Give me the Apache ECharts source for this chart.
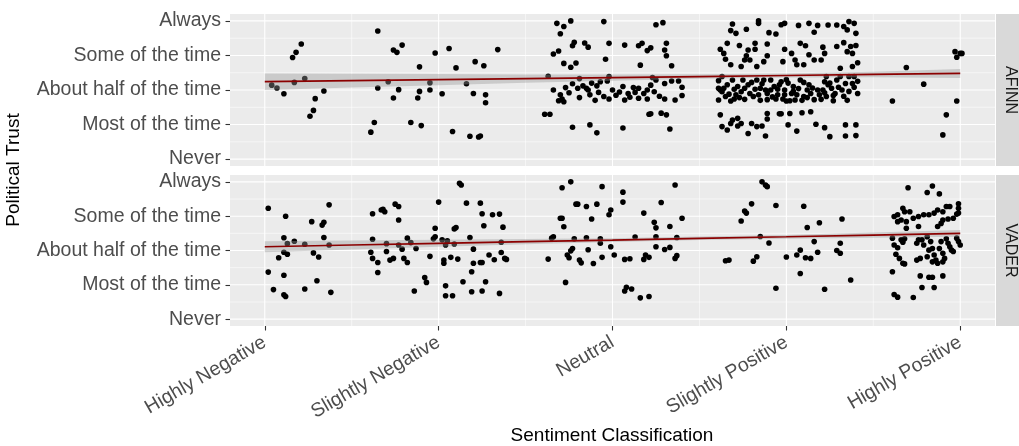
<!DOCTYPE html>
<html>
<head>
<meta charset="utf-8">
<title>Political Trust by Sentiment Classification</title>
<script src="https://cdn.jsdelivr.net/npm/echarts@6/dist/echarts.min.js"></script>
<style>
  html, body { margin: 0; padding: 0; background: #ffffff; }
  #chart { width: 1019px; height: 446px; }
</style>
</head>
<body>
<div id="chart"></div>
<script>
// Category labels (x = sentiment class 1..5, y = trust level 1..5)
const sentimentLevels = ['Highly Negative', 'Slightly Negative', 'Neutral', 'Slightly Positive', 'Highly Positive'];
const trustLevels = ['Never', 'Most of the time', 'About half of the time', 'Some of the time', 'Always'];
const panelNames = ['AFINN', 'VADER'];

// Jittered responses, [sentiment, trust], AFINN panel
const afinnHighlyNegative = [[1.21,4.33],[1.18,4.09],[1.16,3.94],[1.04,3.14],[1.07,3.06],[1.11,2.89],[1.17,3.22],[1.23,3.33],[1.34,2.97],[1.29,2.75],[1.28,2.41],[1.26,2.24]];
const afinnSlightlyNegative = [[1.65,4.71],[1.74,4.16],[1.76,4.09],[1.79,4.30],[1.89,3.67],[1.98,4.07],[2.06,4.20],[2.10,3.64],[2.21,3.82],[2.26,3.70],[2.34,4.17],[1.71,3.24],[1.65,3.06],[1.74,2.77],[1.77,3.01],[1.88,2.77],[1.89,2.96],[1.95,3.21],[1.95,3.00],[2.02,2.89],[2.16,3.18],[2.20,2.90],[2.27,2.86],[2.27,2.63],[1.63,2.06],[1.61,1.78],[1.84,2.06],[1.90,1.97],[2.08,1.80],[2.18,1.66],[2.23,1.64],[2.24,1.67]];
const afinnNeutral = [[2.68,4.93],[2.72,4.84],[2.76,5.00],[2.70,4.63],[2.95,4.98],[3.25,4.89],[2.66,4.04],[2.69,4.13],[2.77,4.28],[2.78,4.38],[2.84,4.36],[2.86,4.24],[2.98,4.35],[3.07,4.30],[3.15,4.28],[3.17,4.35],[3.20,4.14],[3.22,4.22],[2.72,3.77],[2.76,3.66],[2.79,3.78],[2.96,3.89],[3.16,3.72],[2.63,3.40],[2.81,3.33],[2.66,3.00],[2.73,3.07],[2.77,3.18],[2.83,3.12],[2.85,3.05],[2.86,3.00],[2.87,2.86],[2.81,2.78],[2.69,2.69],[2.71,2.74],[2.72,2.66],[2.90,2.70],[2.91,3.12],[2.93,3.24],[2.97,3.26],[2.98,3.39],[2.95,2.81],[2.98,2.74],[3.02,2.85],[3.07,2.71],[3.06,3.10],[3.10,2.79],[3.12,3.07],[3.13,2.93],[3.15,2.76],[3.18,2.90],[3.20,2.74],[3.20,3.00],[3.23,3.36],[3.22,3.14],[3.25,3.29],[3.27,2.82],[2.61,2.30],[2.64,2.30],[2.77,1.92],[2.87,1.99],[2.91,1.76],[3.06,1.90],[3.21,2.30],[3.22,2.31],[3.29,4.95],[3.31,4.35],[3.30,4.16],[3.31,3.99],[3.34,3.70],[3.30,3.19],[3.34,3.26],[3.38,3.26],[3.40,3.08],[3.40,2.84],[3.36,2.71],[3.30,2.74],[3.28,2.33],[3.31,2.28],[3.33,1.87],
  [2.70,2.86],[2.75,2.92],[2.80,3.05],[2.92,2.93],[3.00,3.00],[3.04,2.94],[3.09,2.90],[3.15,3.05],[3.24,2.95],[2.88,3.20]];
const afinnSlightlyPositive = [
  [3.69,4.91],[3.84,5.00],[3.84,4.93],[3.77,4.76],[3.68,4.72],[3.71,4.64],[3.90,4.66],[3.94,4.62],[3.97,4.89],[3.99,4.93],[4.07,4.87],[4.13,4.93],[4.18,4.87],[4.16,4.67],[4.24,4.88],[4.29,4.88],[4.33,4.84],[4.36,4.98],[4.39,4.93],[4.40,4.64],[4.35,4.74],
  [3.66,4.35],[3.62,4.18],[3.64,4.06],[3.73,4.29],[3.78,4.16],[3.82,4.35],[3.82,4.18],[3.89,4.33],[3.89,3.99],[3.99,4.18],[4.03,4.06],[4.08,4.35],[4.11,4.28],[4.13,4.02],[4.16,3.87],[4.21,4.24],[4.22,4.06],[4.20,3.87],[4.29,4.26],[4.33,4.37],[4.35,4.11],[4.37,4.26],[4.40,4.29],[4.38,4.06],[4.41,3.79],[4.38,3.68],[4.31,3.63],[3.79,3.87],[3.76,3.87],[3.68,3.73],[3.74,3.68],[3.83,3.68],[3.87,3.82],[3.98,3.82],[4.05,3.87],[4.10,3.73],[4.06,3.73],[3.65,3.89],[3.77,3.99],
  [3.61,3.27],[3.62,3.00],[3.61,2.71],[3.65,2.81],[3.68,2.68],[3.71,2.86],[3.75,3.29],[3.78,3.15],[3.81,2.81],[3.85,3.05],[3.87,3.29],[3.89,2.90],[3.93,3.10],[3.94,2.74],[3.97,3.24],[3.99,3.00],[4.02,2.69],[4.04,3.10],[4.08,3.29],[4.10,2.81],[4.13,3.15],[4.16,2.72],[4.18,3.00],[4.22,3.24],[4.23,2.81],[4.26,3.05],[4.29,3.29],[4.32,3.00],[4.35,2.70],[4.38,3.19],[4.41,2.90],[3.66,3.15],[3.72,3.10],[3.76,2.73],[3.83,3.29],[3.91,3.29],[3.95,2.86],[4.00,2.68],[4.06,2.86],[4.14,2.90],[4.20,2.73],[4.27,2.69],[4.31,3.39],[4.36,3.39],[3.63,3.39],[3.85,2.70],[3.98,2.74],[4.05,2.71],[4.23,3.39],[3.64,3.05],[3.74,2.95],[3.79,2.90],[3.91,3.00],[3.96,3.15],[4.03,2.90],[4.12,3.00],[4.21,3.00],[4.28,2.90],[4.34,3.19],[4.39,3.39],[3.69,3.29],[3.89,2.72],[4.09,2.70],[4.24,3.15],[3.61,3.05],
  [3.63,2.95],[3.67,2.88],[3.70,3.02],[3.73,2.78],[3.76,3.05],[3.80,3.22],[3.84,2.86],[3.86,3.18],[3.88,3.00],[3.92,2.80],[3.95,3.02],[3.99,2.86],[4.01,3.20],[4.04,2.96],[4.07,3.04],[4.10,3.22],[4.12,2.78],[4.15,3.06],[4.19,2.86],[4.22,2.92],[4.25,3.20],[4.27,2.84],[4.30,3.08],[4.33,2.82],[4.36,2.96],[4.39,3.08],[4.41,3.25],[3.70,2.74],[3.82,3.02],[4.00,3.30],
  [3.62,2.28],[3.63,1.94],[3.66,1.84],[3.69,2.13],[3.72,2.18],[3.74,2.03],[3.78,1.74],[3.80,2.03],[3.83,1.94],[3.86,1.96],[3.89,2.32],[3.89,2.16],[3.88,1.67],[3.96,2.31],[3.97,2.31],[4.02,2.32],[4.01,1.99],[4.06,1.81],[4.09,2.34],[4.14,2.37],[4.17,2.01],[4.22,1.91],[4.25,1.65],[4.34,1.99],[4.34,1.67],[4.40,1.99],[4.40,1.68],[3.68,2.03],[3.72,1.96]
];
const afinnHighlyPositive = [[4.69,3.65],[4.79,3.17],[4.61,2.68],[4.97,4.11],[5.00,4.06],[4.98,3.95],[5.01,4.06],[4.98,2.68],[4.92,2.28],[4.90,1.70]];

// Jittered responses, [sentiment, trust], VADER panel
const vaderHighlyNegative = [[1.02,4.23],[1.12,4.00],[1.27,3.84],[1.33,3.74],[1.34,3.82],[1.37,4.33],[1.11,3.37],[1.17,3.27],[1.13,3.20],[1.23,3.18],[1.34,3.38],[1.37,3.16],[1.11,2.95],[1.13,2.89],[1.08,2.79],[1.28,2.93],[1.31,2.81],[1.02,2.37],[1.11,2.28],[1.30,2.12],[1.05,1.86],[1.11,1.71],[1.12,1.66],[1.23,1.88],[1.38,1.78]];
const vaderSlightlyNegative = [[1.62,4.07],[1.62,3.33],[1.68,4.20],[1.69,4.13],[1.67,4.18],[1.75,4.35],[1.77,4.28],[1.77,3.89],[1.61,2.95],[1.62,2.77],[1.65,2.65],[1.65,2.36],[1.70,3.20],[1.70,2.97],[1.72,2.72],[1.74,2.77],[1.77,3.16],[1.79,3.04],[1.80,2.77],[1.82,2.65],[1.82,3.36],[1.84,3.23],[1.87,3.06],[1.86,1.82],[1.92,2.21],[1.93,2.07],[1.95,2.83],[1.98,3.65],[1.98,3.40],[1.97,3.34],[2.00,4.41],[2.02,3.31],[2.04,3.16],[2.05,3.28],[2.03,2.72],[2.03,2.63],[2.04,1.97],[2.04,1.68],[2.07,2.80],[2.08,1.68],[2.09,3.19],[2.10,3.67],[2.09,3.63],[2.11,2.75],[2.12,4.96],[2.13,4.91],[2.14,2.09],[2.16,4.38],[2.18,3.38],[2.19,2.38],[2.19,1.80],[2.20,3.04],[2.20,2.63],[2.24,2.65],[2.25,1.82],[2.25,2.65],[2.24,4.38],[2.25,4.07],[2.26,3.72],[2.27,2.09],[2.29,2.87],[2.31,4.04],[2.32,2.73],[2.35,4.06],[2.36,3.24],[2.36,2.94],[2.35,1.75],[2.37,3.68],[2.38,2.77],[2.39,2.74]];
const vaderNeutral = [[2.63,2.75],[2.66,3.40],[2.65,3.36],[2.71,4.83],[2.76,5.00],[2.94,4.86],[2.71,3.94],[2.70,3.94],[2.72,3.69],[2.79,4.35],[2.80,4.35],[2.85,4.28],[2.88,3.92],[2.91,4.35],[2.78,3.34],[2.77,3.06],[2.76,2.99],[2.74,2.87],[2.75,2.79],[2.81,2.72],[2.82,2.64],[2.85,3.37],[2.86,3.02],[2.89,2.62],[2.93,3.34],[2.93,3.21],[2.94,2.80],[2.73,2.07],[2.98,4.04],[2.99,4.18],[2.99,3.11],[3.01,2.87],[3.06,4.70],[3.06,4.41],[3.07,2.74],[3.10,2.76],[3.08,1.93],[3.07,1.82],[3.11,1.88],[3.13,3.39],[3.16,1.62],[3.18,4.09],[3.18,2.74],[3.19,2.87],[3.21,2.80],[3.21,1.66],[3.24,3.82],[3.25,3.66],[3.25,3.40],[3.25,3.11],[3.36,4.91],[3.28,4.40],[3.40,3.94],[3.33,3.70],[3.37,3.38],[3.30,3.03],[3.33,3.09],[3.37,2.85],[3.36,2.77]];
const vaderSlightlyPositive = [[3.65,2.70],[3.67,2.72],[3.74,3.86],[3.76,4.15],[3.77,4.09],[3.80,4.36],[3.81,2.69],[3.83,2.82],[3.85,3.41],[3.86,5.00],[3.88,4.91],[3.89,4.86],[3.90,3.22],[3.94,1.90],[3.94,4.31],[4.00,2.81],[4.06,2.87],[4.08,2.33],[4.08,3.01],[4.10,4.29],[4.11,2.79],[4.12,3.67],[4.14,2.77],[4.16,3.26],[4.18,2.95],[4.19,3.81],[4.22,1.87],[4.29,3.00],[4.31,3.21],[4.31,2.92],[4.32,3.92],[4.37,2.14]];
const vaderHighlyPositive = [
  [4.70,4.83],[4.81,4.69],[4.84,4.88],[4.88,4.65],[4.61,2.38],[4.62,1.72],[4.64,1.64],[4.73,1.63],[4.77,2.26],[4.78,1.92],[4.82,2.22],[4.84,2.22],[4.85,1.92],[4.90,2.26],
  [4.62,3.99],[4.64,4.04],[4.67,4.23],[4.68,4.13],[4.71,4.13],[4.66,3.89],[4.69,3.84],[4.69,3.65],[4.73,3.94],[4.76,3.99],[4.79,4.04],[4.82,4.04],[4.85,4.09],[4.87,4.18],[4.90,4.13],[4.92,4.28],[4.94,4.28],[4.99,4.36],[4.99,4.09],[4.96,3.94],[4.93,3.92],[4.90,3.89],[4.89,3.79],[4.87,3.70],[4.76,3.70],[4.64,3.84],[4.99,4.23],[4.98,4.06],
  [4.61,3.36],[4.62,3.16],[4.64,3.08],[4.63,2.89],[4.65,2.77],[4.67,2.63],[4.68,2.61],[4.68,3.34],[4.67,3.24],[4.75,3.21],[4.76,3.31],[4.78,3.31],[4.79,3.16],[4.81,3.40],[4.83,3.26],[4.84,3.06],[4.85,2.87],[4.86,2.72],[4.88,3.06],[4.89,3.26],[4.90,2.92],[4.90,2.67],[4.92,3.34],[4.94,3.11],[4.96,2.97],[4.98,3.36],[5.00,3.16],[4.75,2.72],[4.77,2.77],[4.81,2.82],[4.84,2.67],[4.87,2.63],[4.91,2.77],[4.93,3.21],[4.95,3.01],[4.99,3.26],[4.82,3.01],[4.66,3.31]
];

// Linear fit with 95% band, per panel
const fitX = [1, 1.5, 2, 2.5, 3, 3.5, 4, 4.5, 5];
const afinnFit = [3.24, 3.27, 3.30, 3.33, 3.36, 3.39, 3.42, 3.45, 3.48];
const afinnLower = [3.00, 3.07, 3.14, 3.21, 3.27, 3.325, 3.365, 3.37, 3.35];
const afinnUpper = [3.48, 3.47, 3.46, 3.45, 3.45, 3.455, 3.475, 3.53, 3.61];
const vaderFit = [3.11, 3.16, 3.21, 3.26, 3.305, 3.355, 3.40, 3.45, 3.50];
const vaderLower = [2.95, 3.03, 3.11, 3.185, 3.25, 3.305, 3.345, 3.375, 3.40];
const vaderUpper = [3.27, 3.29, 3.31, 3.335, 3.36, 3.405, 3.455, 3.525, 3.60];

// Axis breaks
const majorBreaks = [1, 2, 3, 4, 5];
const minorBreaks = [1.5, 2.5, 3.5, 4.5];

const panels = [
  { points: [afinnHighlyNegative, afinnSlightlyNegative, afinnNeutral, afinnSlightlyPositive, afinnHighlyPositive],
    fit: afinnFit, lower: afinnLower, upper: afinnUpper },
  { points: [vaderHighlyNegative, vaderSlightlyNegative, vaderNeutral, vaderSlightlyPositive, vaderHighlyPositive],
    fit: vaderFit, lower: vaderLower, upper: vaderUpper }
];

const FONT = "'Liberation Sans', Arial, Helvetica, sans-serif";
const PANEL_LEFT = 230, PANEL_RIGHT = 24;
const panelTops = [14, 175];
const panelHeights = [152, 151];

const gridLines = [];
majorBreaks.forEach(v => { gridLines.push({ dir: 'h', v, w: 1.1 }); gridLines.push({ dir: 'v', v, w: 1.1 }); });
minorBreaks.forEach(v => { gridLines.push({ dir: 'h', v, w: 0.55 }); gridLines.push({ dir: 'v', v, w: 0.55 }); });

const grids = [], xAxes = [], yAxes = [], series = [];

panels.forEach((p, i) => {
  grids.push({ left: PANEL_LEFT, right: PANEL_RIGHT, top: panelTops[i], height: panelHeights[i],
               show: true, backgroundColor: '#EBEBEB', borderWidth: 0 });
  const isBottom = i === panels.length - 1;
  xAxes.push({
    gridIndex: i, type: 'value', min: 0.8, max: 5.2,
    axisLine: { show: false },
    splitLine: { show: false },
    axisTick: { show: isBottom, customValues: majorBreaks, length: 4.5, lineStyle: { color: '#333333', width: 1.1 } },
    axisLabel: { show: isBottom, customValues: majorBreaks, rotate: 30, margin: 15,
                 formatter: v => sentimentLevels[Math.round(v) - 1],
                 fontFamily: FONT, fontSize: 19.5, color: '#4D4D4D' }
  });
  yAxes.push({
    gridIndex: i, type: 'value', min: 0.8, max: 5.2,
    axisLine: { show: false },
    splitLine: { show: false },
    axisTick: { show: true, customValues: majorBreaks, length: 4.5, lineStyle: { color: '#333333', width: 1.1 } },
    axisLabel: { customValues: majorBreaks, margin: 9,
                 formatter: v => trustLevels[Math.round(v) - 1],
                 fontFamily: FONT, fontSize: 19.5, color: '#4D4D4D' }
  });

  // panel grid lines
  series.push({
    type: 'custom', xAxisIndex: i, yAxisIndex: i, silent: true, z: 1,
    data: gridLines.map(g => [g.v, g.v]),
    renderItem: (params, api) => {
      const g = gridLines[params.dataIndex];
      const cs = params.coordSys;
      if (g.dir === 'h') {
        const y = api.coord([1, g.v])[1];
        return { type: 'line', shape: { x1: cs.x, y1: y, x2: cs.x + cs.width, y2: y },
                 style: { stroke: '#FFFFFF', lineWidth: g.w } };
      }
      const x = api.coord([g.v, 1])[0];
      return { type: 'line', shape: { x1: x, y1: cs.y, x2: x, y2: cs.y + cs.height },
               style: { stroke: '#FFFFFF', lineWidth: g.w } };
    }
  });

  // jittered responses
  p.points.forEach(group => {
    series.push({
      type: 'scatter', xAxisIndex: i, yAxisIndex: i, z: 3, silent: true,
      symbol: 'circle', symbolSize: 5.6,
      itemStyle: { color: '#000000', opacity: 1 },
      data: group
    });
  });

  // confidence band
  series.push({
    type: 'custom', xAxisIndex: i, yAxisIndex: i, silent: true, z: 4,
    data: [[fitX[0], p.fit[0]]],
    renderItem: (params, api) => {
      const upper = fitX.map((x, k) => api.coord([x, p.upper[k]]));
      const lower = fitX.map((x, k) => api.coord([x, p.lower[k]])).reverse();
      return { type: 'polygon', shape: { points: upper.concat(lower) },
               style: { fill: 'rgba(153,153,153,0.4)' } };
    }
  });

  // fitted line
  series.push({
    type: 'line', xAxisIndex: i, yAxisIndex: i, z: 5, silent: true,
    symbol: 'none', data: fitX.map((x, k) => [x, p.fit[k]]),
    lineStyle: { color: '#8B0000', width: 1.7 }
  });
});

const graphic = [];
panels.forEach((p, i) => {
  graphic.push({ type: 'rect', left: 996, top: panelTops[i], silent: true,
                 shape: { width: 30, height: panelHeights[i] }, style: { fill: '#D9D9D9' } });
  graphic.push({ type: 'text', x: 1010, y: panelTops[i] + panelHeights[i] / 2, rotation: -Math.PI / 2, silent: true,
                 style: { text: panelNames[i], align: 'center', verticalAlign: 'middle',
                          font: '16px ' + FONT, fill: '#1A1A1A' } });
});
graphic.push({ type: 'text', x: 14, y: 170, rotation: Math.PI / 2, silent: true,
               style: { text: 'Political Trust', align: 'center', verticalAlign: 'middle',
                        font: '19px ' + FONT, fill: '#000000' } });
graphic.push({ type: 'text', x: 612, y: 436, silent: true,
               style: { text: 'Sentiment Classification', align: 'center', verticalAlign: 'middle',
                        font: '19px ' + FONT, fill: '#000000' } });

const chart = echarts.init(document.getElementById('chart'), null, { renderer: 'canvas' });
chart.setOption({
  animation: false,
  backgroundColor: '#FFFFFF',
  grid: grids,
  xAxis: xAxes,
  yAxis: yAxes,
  series: series,
  graphic: graphic
});
</script>
</body>
</html>
